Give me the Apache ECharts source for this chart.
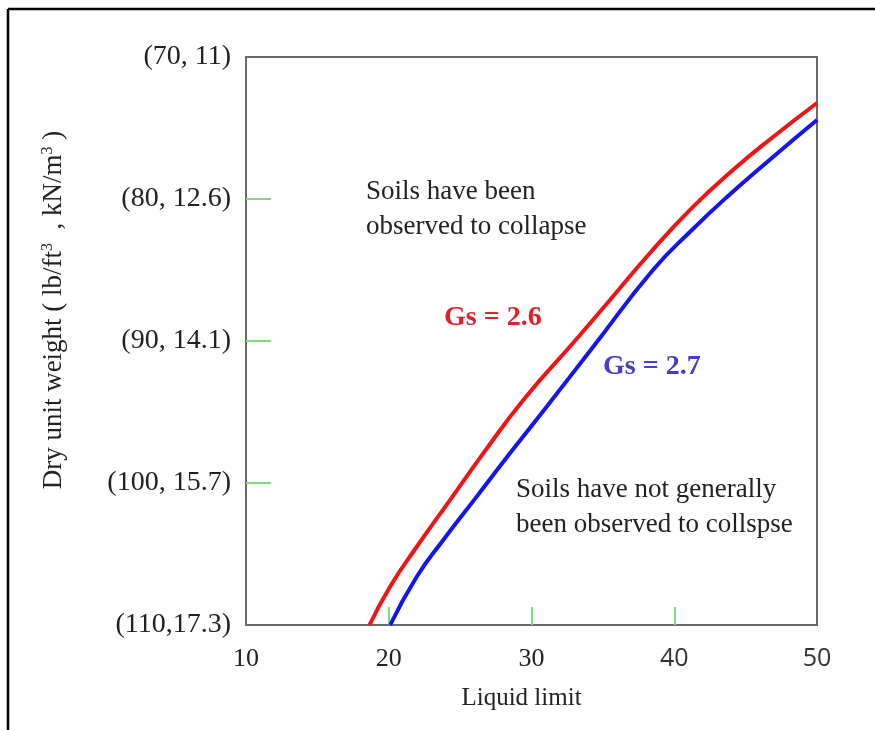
<!DOCTYPE html>
<html>
<head>
<meta charset="utf-8">
<script src="https://cdn.jsdelivr.net/npm/echarts@6/dist/echarts.min.js"></script>
<style>
html,body{margin:0;padding:0;background:#fff;}
#c{width:875px;height:730px;}
</style>
</head>
<body>
<div id="c"></div>
<script>
// Liquid limit (x) and dry unit weight in lb/ft^3 (y)
var gs26LL    = [18.65, 20.09, 21.96, 24.29, 26.62, 29.43, 32.91, 35.50, 38.30, 41.31, 44.11, 46.92, 50.0];
var gs26Gamma = [110.0, 107.30, 104.49, 101.20, 97.91, 94.15, 90.14, 87.11, 83.80, 80.56, 77.96, 75.63, 73.24];
var gs27LL    = [20.1, 21.96, 23.82, 26.16, 28.49, 31.06, 34.31, 38.51, 41.31, 43.69, 46.92, 50.0];
var gs27Gamma = [110.0, 106.60, 104.01, 100.96, 97.91, 94.63, 90.42, 85.00, 82.11, 79.86, 77.04, 74.44];
var yTickValues = [70, 80, 90, 100, 110];
var yTickLabels = ['(70, 11)', '(80, 12.6)', '(90, 14.1)', '(100, 15.7)', '(110,17.3)'];
var xTickValues = [10, 20, 30, 40, 50];
var seriesNames = ['Gs = 2.6', 'Gs = 2.7'];

function pairs(xs, ys){ return xs.map(function(x,i){ return [x, ys[i]]; }); }

var serif = '"Liberation Serif", "DejaVu Serif", serif';
var chart = echarts.init(document.getElementById('c'));
chart.setOption({
  animation: false,
  backgroundColor: '#fff',
  grid: {left: 246, top: 57, right: 58, bottom: 105, show: true, borderColor: '#6a6a6a', borderWidth: 2, backgroundColor: 'transparent'},
  xAxis: {
    type: 'value', min: 10, max: 50, interval: 10,
    axisLine: {show: false},
    splitLine: {show: false},
    axisTick: {show: true, inside: true, length: 18, customValues: [20, 30, 40], lineStyle: {color: '#7ddc7d', width: 2}},
    axisLabel: {
      margin: 21, fontSize: 26, color: '#222', fontFamily: serif,
      customValues: xTickValues,
      formatter: function(v){ return v >= 40 ? '{s|' + v + '}' : String(v); },
      rich: {s: {fontSize: 25, color: '#333', fontFamily: '"Open Sans", "DejaVu Sans", sans-serif'}}
    },
    name: 'Liquid limit', nameLocation: 'middle', nameGap: 61,
    nameTextStyle: {fontSize: 25, color: '#222', fontFamily: serif, padding: [0, 20, 0, 0]}
  },
  yAxis: {
    type: 'value', min: 70, max: 110, interval: 10, inverse: true,
    axisLine: {show: false},
    splitLine: {show: false},
    axisTick: {show: true, inside: true, length: 25, customValues: [80, 90, 100], lineStyle: {color: '#7ddc7d', width: 2}},
    axisLabel: {
      margin: 15, fontSize: 28, color: '#222', fontFamily: serif,
      customValues: yTickValues,
      formatter: function(v){ var i = yTickValues.indexOf(v); return i >= 0 ? yTickLabels[i] : ''; }
    },
    name: 'Dry unit weight ( lb/ft{sup|3}  , kN/m{sup|3} )',
    nameLocation: 'middle', nameRotate: 90, nameGap: 178,
    nameTextStyle: {fontSize: 27, color: '#222', fontFamily: serif, padding: [0, 0, 0, 62],
      rich: {sup: {fontSize: 16, color: '#222', fontFamily: serif, padding: [0, 0, 12, 0]}}}
  },
  series: [
    {name: seriesNames[0], type: 'line', smooth: true, showSymbol: false, clip: true,
     data: pairs(gs26LL, gs26Gamma), lineStyle: {color: '#f01414', width: 4}, z: 3},
    {name: seriesNames[1], type: 'line', smooth: true, showSymbol: false, clip: true,
     data: pairs(gs27LL, gs27Gamma), lineStyle: {color: '#1414f0', width: 4}, z: 3}
  ],
  graphic: [
    {type: 'line', shape: {x1: 8, y1: 9, x2: 875, y2: 9}, style: {stroke: '#000', lineWidth: 2.5}},
    {type: 'line', shape: {x1: 8, y1: 9, x2: 8, y2: 730}, style: {stroke: '#000', lineWidth: 2.5}},
    {type: 'text', x: 366, y: 191, style: {text: 'Soils have been\nobserved to collapse', font: '27px ' + serif, fill: '#222', lineHeight: 35, verticalAlign: 'top', y: -17}},
    {type: 'text', x: 516, y: 489, style: {text: 'Soils have not generally\nbeen observed to collspse', font: '27px ' + serif, fill: '#222', lineHeight: 35, verticalAlign: 'top', y: -17}},
    {type: 'text', x: 444, y: 318, style: {text: seriesNames[0], font: 'bold 28px ' + serif, fill: '#e0202a', verticalAlign: 'middle'}},
    {type: 'text', x: 603, y: 367, style: {text: seriesNames[1], font: 'bold 28px ' + serif, fill: '#4040c8', verticalAlign: 'middle'}}
  ]
});
</script>
</body>
</html>
